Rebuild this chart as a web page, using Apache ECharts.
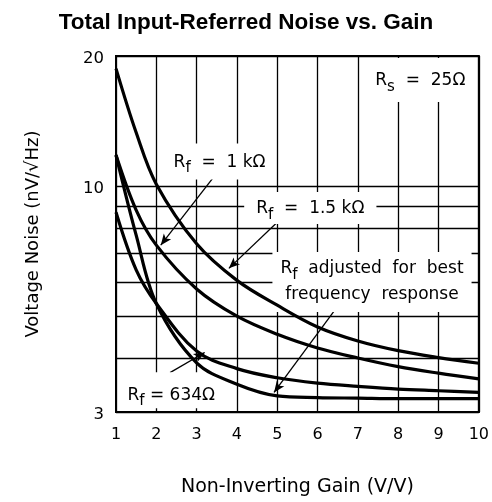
<!DOCTYPE html>
<html>
<head>
<meta charset="utf-8">
<script src="https://cdn.jsdelivr.net/npm/echarts@6/dist/echarts.min.js"></script>
<style>
  html, body { margin: 0; padding: 0; background: #fff; }
  #main { width: 492px; height: 502px; }
</style>
</head>
<body>
<div id="main"></div>
<script>
// gain (V/V) and noise (nV/rtHz)
var gain = [1, 1.5, 2, 3, 4, 5, 6, 7, 8, 9, 10];
var rf1500 = [18.7, 13.3, 10.1, 7.35, 6.05, 5.3, 4.72, 4.38, 4.16, 4.01, 3.89];
var rf1000 = [11.8, 8.8, 7.3, 5.78, 5.0, 4.54, 4.22, 4.0, 3.82, 3.69, 3.58];
var rf634 = [8.7, 6.4, 5.35, 4.15, 3.78, 3.6, 3.5, 3.44, 3.39, 3.36, 3.33];
var rfAdj = [11.8, 7.7, 5.35, 3.9, 3.48, 3.27, 3.24, 3.23, 3.22, 3.22, 3.22];

var yGrid = [4, 5, 6, 7, 8, 9];
var yTickLabels = [3, 10, 20];

var FONT = 'DejaVu Sans';

function pairs(ys) {
  return gain.map(function (g, i) { return [g, ys[i]]; });
}

function curve(name, ys) {
  return {
    name: name,
    type: 'line',
    data: pairs(ys),
    smooth: 0.35,
    showSymbol: false,
    silent: true,
    z: 10,
    lineStyle: { color: '#000', width: 3.2 }
  };
}

var rich = {
  n: { fontFamily: FONT, fontSize: 17, color: '#000' },
  s: { fontFamily: FONT, fontSize: 15, color: '#000', padding: [12, 0, 0, 0] }
};

function note(x, y, text, pad) {
  return {
    coord: [x, y],
    label: {
      show: true,
      formatter: text,
      position: 'inside',
      backgroundColor: '#fff',
      padding: pad,
      rich: rich,
      lineHeight: 26,
      align: 'center'
    }
  };
}

function arrow(x0, y0, x1, y1) {
  return [{ coord: [x0, y0] }, { coord: [x1, y1] }];
}

var myChart = echarts.init(document.getElementById('main'));

var option = {
  animation: false,
  backgroundColor: '#fff',
  title: {
    text: 'Total Input-Referred Noise vs. Gain',
    left: 'center',
    top: 6,
    textStyle: { fontFamily: 'Liberation Sans', fontWeight: 'bold', fontSize: 22.5, color: '#000' }
  },
  grid: {
    left: 116, right: 13, top: 56, bottom: 84,
    show: true, borderColor: '#000', borderWidth: 2
  },
  xAxis: {
    type: 'value',
    min: 1, max: 10, interval: 1,
    name: 'Non-Inverting Gain (V/V)',
    nameLocation: 'middle',
    nameGap: 66,
    nameTextStyle: { fontFamily: FONT, fontSize: 19, color: '#000' },
    axisLine: { lineStyle: { color: '#000', width: 2 } },
    axisTick: { show: false },
    axisLabel: { fontFamily: FONT, fontSize: 16, color: '#000', margin: 15 },
    splitLine: { show: true, lineStyle: { color: '#000', width: 1.3 } }
  },
  yAxis: {
    type: 'log',
    logBase: 10,
    min: 3, max: 20,
    name: 'Voltage Noise (nV/√Hz)',
    nameLocation: 'middle',
    nameRotate: 90,
    nameGap: 74,
    nameTextStyle: { fontFamily: FONT, fontSize: 18, color: '#000' },
    axisLine: { show: true, lineStyle: { color: '#000', width: 2 } },
    axisTick: { show: false },
    axisLabel: { show: false },
    splitLine: { show: false }
  },
  series: [
    {
      // horizontal grid lines and y tick labels
      type: 'line',
      data: [],
      silent: true,
      z: 1,
      markLine: {
        silent: true,
        symbol: 'none',
        animation: false,
        lineStyle: { color: '#000', width: 1.3, type: 'solid' },
        label: { show: false },
        data: yGrid.map(function (v) { return { yAxis: v }; }).concat(
          yTickLabels.map(function (v) {
            return {
              yAxis: v,
              label: {
                show: true, position: 'start', distance: 12,
                formatter: String(v),
                offset: [0, 3],
                fontFamily: FONT, fontSize: 16.5, color: '#000'
              }
            };
          })
        )
      }
    },
    {
      // annotations
      type: 'line',
      data: [],
      silent: true,
      z: 5,
      markPoint: {
        silent: true,
        symbol: 'circle',
        symbolSize: 0,
        animation: false,
        data: [
          note(8.55, 17.6, '{n|R}{s|s}{n|  =  25Ω}', [10, 8, 8, 8]),
          note(3.57, 11.4, '{n|R}{s|f}{n|  =  1 kΩ}', [6, 6, 4, 6]),
          note(5.82, 8.9, '{n|R}{s|f}{n|  =  1.5 kΩ}', [4, 12, 2, 12]),
          note(7.35, 6.0, '{n|R}{s|f}{n|  adjusted  for  best}\n{n|frequency  response}', [4, 8, 4, 8]),
          note(2.37, 3.37, '{n|R}{s|f}{n| = 634Ω}', [10, 4, 0, 4])
        ]
      },
      markLine: {
        silent: true,
        symbol: ['none', 'arrow'],
        symbolSize: [7, 11],
        animation: false,
        label: { show: false },
        lineStyle: { color: '#000', width: 1.3, type: 'solid' },
        data: [
          arrow(3.46, 10.6, 2.11, 7.3),
          arrow(5.15, 8.5, 3.8, 6.45),
          arrow(2.34, 3.7, 3.2, 4.12),
          arrow(6.45, 5.2, 4.92, 3.33)
        ]
      }
    },
    curve('Rf = 1.5 kΩ', rf1500),
    curve('Rf = 1 kΩ', rf1000),
    curve('Rf = 634 Ω', rf634),
    curve('Rf adjusted', rfAdj)
  ]
};

myChart.setOption(option);
</script>
</body>
</html>
